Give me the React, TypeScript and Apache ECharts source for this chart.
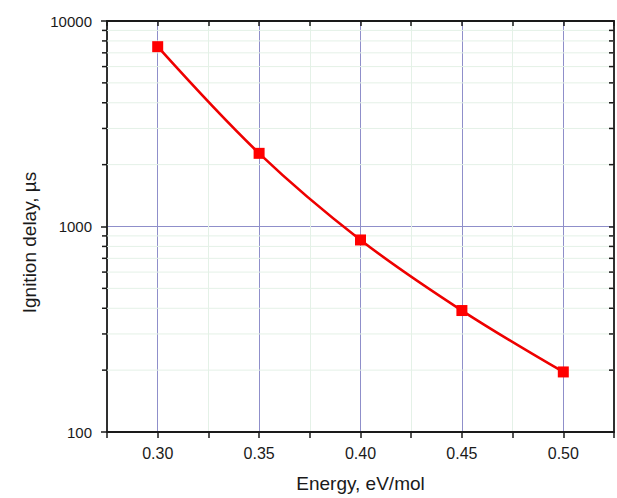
import React, { useEffect, useRef } from "react";
import * as echarts from "echarts";

const energy = [0.3, 0.35, 0.4, 0.45, 0.5];
const ignitionDelay = [7500, 2270, 860, 390, 196];
const yMinorTicks = [200, 300, 400, 500, 600, 700, 800, 900, 2000, 3000, 4000, 5000, 6000, 7000, 8000, 9000];
const X_MIN = 0.275;
const X_MAX = 0.525;
const X_STEP = 0.025;
const Y_MIN = 100;
const Y_MAX = 10000;

const MAJOR = "#8f8fca";
const MINOR = "#e4f1e7";
const AXIS = "#1a1a1a";
const TEXT = "#1a1a1a";
const FONT = "'Liberation Sans', Arial, sans-serif";

export default function App() {
  const ref = useRef<HTMLDivElement>(null);
  useEffect(() => {
    if (!ref.current) return;
    const chart = echarts.init(ref.current, null, { renderer: "svg" });
    const xCommon = {
      type: "value",
      min: X_MIN,
      max: X_MAX,
      interval: X_STEP,
    };
    chart.setOption({
      animation: false,
      backgroundColor: "#ffffff",
      textStyle: { fontFamily: FONT },
      grid: { left: 107, right: 1, top: 21, bottom: 64, containLabel: false },
      xAxis: [
        {
          ...xCommon,
          position: "bottom",
          name: "Energy, eV/mol",
          nameLocation: "middle",
          nameGap: 42,
          nameTextStyle: { fontSize: 19, color: TEXT, fontFamily: FONT },
          axisLine: { show: true, onZero: false, lineStyle: { color: AXIS, width: 1.8 } },
          axisTick: { show: true, inside: false, length: 6, lineStyle: { color: AXIS, width: 1.5 } },
          axisLabel: {
            show: true,
            margin: 13,
            fontSize: 16,
            color: TEXT,
            fontFamily: FONT,
            formatter: (v: number) => (Math.round(v * 1000) % 50 === 0 ? v.toFixed(2) : ""),
          },
          splitLine: { show: true, lineStyle: { color: [MINOR, MAJOR], width: 1 } },
        },
        {
          ...xCommon,
          position: "top",
          axisLine: { show: true, onZero: false, lineStyle: { color: AXIS, width: 1.8 } },
          axisTick: { show: true, inside: true, length: 5, lineStyle: { color: AXIS, width: 1.5 } },
          axisLabel: { show: false },
          splitLine: { show: false },
        },
      ],
      yAxis: [
        {
          type: "log",
          logBase: 10,
          min: Y_MIN,
          max: Y_MAX,
          position: "left",
          name: "Ignition delay, µs",
          nameLocation: "middle",
          nameGap: 67,
          nameRotate: 90,
          nameTextStyle: { fontSize: 19, color: TEXT, fontFamily: FONT, padding: [0, 32, 0, 0] },
          axisLine: { show: true, onZero: false, lineStyle: { color: AXIS, width: 1.8 } },
          axisTick: { show: true, inside: false, length: 6, lineStyle: { color: AXIS, width: 1.5 } },
          axisLabel: {
            show: true,
            margin: 15,
            fontSize: 15,
            color: TEXT,
            fontFamily: FONT,
            formatter: (v: number) => String(Math.round(v)),
          },
          splitLine: { show: true, lineStyle: { color: MAJOR, width: 1 } },
        },
        {
          type: "log",
          logBase: 10,
          min: Y_MIN,
          max: Y_MAX,
          position: "right",
          axisLine: { show: true, onZero: false, lineStyle: { color: AXIS, width: 1.8 } },
          axisTick: { show: true, inside: true, length: 5, lineStyle: { color: AXIS, width: 1.5 } },
          axisLabel: { show: false },
          splitLine: { show: false },
        },
      ],
      series: [
        {
          type: "custom",
          name: "minor",
          xAxisIndex: 0,
          yAxisIndex: 0,
          silent: true,
          z: 1,
          data: yMinorTicks.map((v) => [X_MIN, v]),
          renderItem: (params: any, api: any) => {
            const v = api.value(1);
            const p = api.coord([X_MIN, v]);
            const q = api.coord([X_MAX, v]);
            return {
              type: "group",
              children: [
                {
                  type: "line",
                  shape: { x1: p[0], y1: p[1], x2: q[0], y2: q[1] },
                  style: { stroke: MINOR, lineWidth: 1 },
                  z2: 0,
                },
                {
                  type: "line",
                  shape: { x1: p[0] - 5, y1: p[1], x2: p[0], y2: p[1] },
                  style: { stroke: AXIS, lineWidth: 1.5 },
                  z2: 10,
                },
                {
                  type: "line",
                  shape: { x1: q[0] - 5, y1: q[1], x2: q[0], y2: q[1] },
                  style: { stroke: AXIS, lineWidth: 1.5 },
                  z2: 10,
                },
              ],
            };
          },
        },
        {
          type: "line",
          name: "Ignition delay",
          xAxisIndex: 0,
          yAxisIndex: 0,
          z: 5,
          data: energy.map((e, i) => [e, ignitionDelay[i]]),
          smooth: 0.35,
          symbol: "rect",
          symbolSize: 11,
          lineStyle: { color: "#ee0000", width: 2.6 },
          itemStyle: { color: "#ff0000" },
        },
      ],
    });
    return () => chart.dispose();
  }, []);
  return (
    <div
      ref={ref}
      style={{ position: "fixed", left: 0, top: 0, width: 617, height: 498, background: "#fff" }}
    />
  );
}
